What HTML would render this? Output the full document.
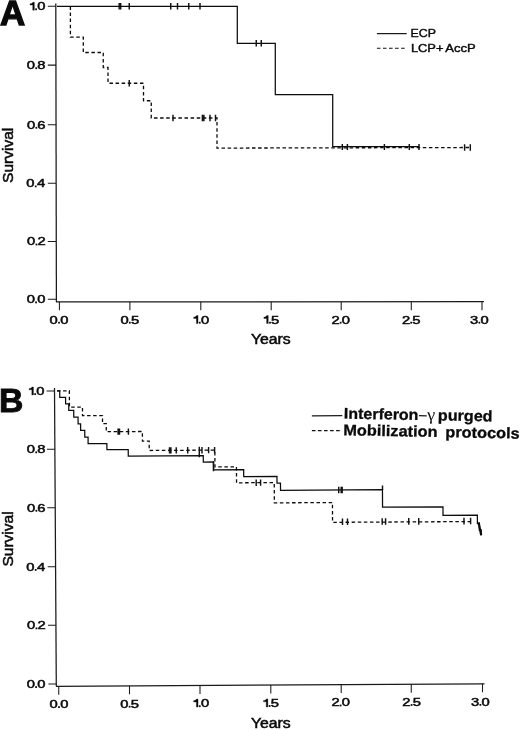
<!DOCTYPE html>
<html>
<head>
<meta charset="utf-8">
<title>Survival curves</title>
<style>
html,body{margin:0;padding:0;background:#fff;}
body{width:520px;height:730px;overflow:hidden;font-family:"Liberation Sans",sans-serif;}
svg{display:block;}
text{font-family:"Liberation Sans",sans-serif;fill:#0a0a0a;}
.tk{font-size:11.3px;stroke:#0a0a0a;stroke-width:0.5;}
.lg{font-size:11px;stroke:#0a0a0a;stroke-width:0.4;}
.ax{font-size:13.8px;stroke:#0a0a0a;stroke-width:0.5;}
.ln{fill:none;stroke:#1a1a1a;stroke-width:1.25;}
.ds{fill:none;stroke:#111;stroke-width:1.1;stroke-dasharray:3.6 2.45;}
.cv{fill:none;stroke:#0c0c0c;stroke-width:1.25;stroke-linejoin:miter;}
.cd{fill:none;stroke:#0c0c0c;stroke-width:1.3;stroke-dasharray:3.5 2.6;}
.ct{fill:none;stroke:#111;stroke-width:1.45;}
.tkl{fill:none;stroke:#1a1a1a;stroke-width:1.05;}
</style>
</head>
<body>
<svg width="520" height="730" viewBox="0 0 520 730">
<defs>
  <filter id="soft" x="0" y="0" width="520" height="730" filterUnits="userSpaceOnUse" color-interpolation-filters="sRGB">
    <feGaussianBlur stdDeviation="0.38"/>
  </filter>
</defs>
<rect x="0" y="0" width="520" height="730" fill="#ffffff"/>
<g filter="url(#soft)">

<g id="panelA">
<text x="0.1" y="25.3" font-size="35.5" font-weight="bold" textLength="25.2" lengthAdjust="spacingAndGlyphs" style="stroke:#0a0a0a;stroke-width:1.3">A</text>
<path class="ln" d="M55.8,3.5 L56.4,302"/>
<path class="ln" d="M56,301.8 L483.9,301.7"/>
<path class="tkl" d="M47.8,6.2 H56 M47.8,65.1 H56 M47.8,124.7 H56 M47.8,183.3 H56 M47.8,241.4 H56 M47.8,299.3 H56"/>
<path class="tkl" d="M59.4,301.8 V310.3 M129.9,301.8 V310.3 M200.8,301.8 V310.3 M271.2,301.8 V310.3 M341.2,301.8 V310.3 M411.3,301.8 V310.3 M482.0,301.8 V310.3"/>
<path d="M29.97,3.75 C31.57,3.70 32.57,3.10 32.92,2.20 L34.37,2.20 L34.37,10.20 L32.72,10.20 L32.72,5.05 L29.97,5.05 Z" style="fill:#0a0a0a;stroke:#0a0a0a;stroke-width:0.3"/>
<rect x="35.22" y="8.40" width="1.75" height="1.8" style="fill:#0a0a0a"/>
<text class="tk" transform="translate(37.25,10.20) scale(1.310,1)" style="font-size:11.3px">0</text>
<text class="tk" transform="translate(26.84,69.10) scale(1.310,1)" style="font-size:11.3px">0</text>
<rect x="35.34" y="67.30" width="1.75" height="1.8" style="fill:#0a0a0a"/>
<text class="tk" transform="translate(37.31,69.10) scale(1.310,1)" style="font-size:11.3px">8</text>
<text class="tk" transform="translate(26.97,128.70) scale(1.310,1)" style="font-size:11.3px">0</text>
<rect x="35.48" y="126.90" width="1.75" height="1.8" style="fill:#0a0a0a"/>
<text class="tk" transform="translate(37.32,128.70) scale(1.310,1)" style="font-size:11.3px">6</text>
<text class="tk" transform="translate(26.34,187.30) scale(1.310,1)" style="font-size:11.3px">0</text>
<rect x="34.84" y="185.50" width="1.75" height="1.8" style="fill:#0a0a0a"/>
<text class="tk" transform="translate(37.10,187.30) scale(1.310,1)" style="font-size:11.3px">4</text>
<text class="tk" transform="translate(27.05,245.40) scale(1.310,1)" style="font-size:11.3px">0</text>
<rect x="35.55" y="243.60" width="1.75" height="1.8" style="fill:#0a0a0a"/>
<text class="tk" transform="translate(37.41,245.40) scale(1.310,1)" style="font-size:11.3px">2</text>
<text class="tk" transform="translate(26.72,303.30) scale(1.310,1)" style="font-size:11.3px">0</text>
<rect x="35.22" y="301.50" width="1.75" height="1.8" style="fill:#0a0a0a"/>
<text class="tk" transform="translate(37.25,303.30) scale(1.310,1)" style="font-size:11.3px">0</text>
<text class="tk" transform="translate(49.62,323.60) scale(1.310,1)" style="font-size:11.3px">0</text>
<rect x="58.12" y="321.80" width="1.75" height="1.8" style="fill:#0a0a0a"/>
<text class="tk" transform="translate(60.15,323.60) scale(1.310,1)" style="font-size:11.3px">0</text>
<text class="tk" transform="translate(120.40,323.60) scale(1.310,1)" style="font-size:11.3px">0</text>
<rect x="128.90" y="321.80" width="1.75" height="1.8" style="fill:#0a0a0a"/>
<text class="tk" transform="translate(130.91,323.60) scale(1.310,1)" style="font-size:11.3px">5</text>
<path d="M193.64,317.15 C195.24,317.10 196.24,316.50 196.59,315.60 L198.04,315.60 L198.04,323.60 L196.39,323.60 L196.39,318.45 L193.64,318.45 Z" style="fill:#0a0a0a;stroke:#0a0a0a;stroke-width:0.3"/>
<rect x="198.89" y="321.80" width="1.75" height="1.8" style="fill:#0a0a0a"/>
<text class="tk" transform="translate(200.91,323.60) scale(1.310,1)" style="font-size:11.3px">0</text>
<path d="M263.87,317.15 C265.47,317.10 266.47,316.50 266.82,315.60 L268.27,315.60 L268.27,323.60 L266.62,323.60 L266.62,318.45 L263.87,318.45 Z" style="fill:#0a0a0a;stroke:#0a0a0a;stroke-width:0.3"/>
<rect x="269.12" y="321.80" width="1.75" height="1.8" style="fill:#0a0a0a"/>
<text class="tk" transform="translate(271.12,323.60) scale(1.310,1)" style="font-size:11.3px">5</text>
<text class="tk" transform="translate(331.42,323.60) scale(1.310,1)" style="font-size:11.3px">2</text>
<rect x="339.76" y="321.80" width="1.75" height="1.8" style="fill:#0a0a0a"/>
<text class="tk" transform="translate(341.78,323.60) scale(1.310,1)" style="font-size:11.3px">0</text>
<text class="tk" transform="translate(401.95,323.60) scale(1.310,1)" style="font-size:11.3px">2</text>
<rect x="410.29" y="321.80" width="1.75" height="1.8" style="fill:#0a0a0a"/>
<text class="tk" transform="translate(412.30,323.60) scale(1.310,1)" style="font-size:11.3px">5</text>
<text class="tk" transform="translate(470.07,323.60) scale(1.310,1)" style="font-size:11.3px">3</text>
<rect x="478.50" y="321.80" width="1.75" height="1.8" style="fill:#0a0a0a"/>
<text class="tk" transform="translate(480.52,323.60) scale(1.310,1)" style="font-size:11.3px">0</text>
<text class="ax" x="250.9" y="344.1" textLength="39.8" lengthAdjust="spacingAndGlyphs">Years</text>
<text class="ax" transform="translate(13.3,182.9) rotate(-90)" textLength="55.2" lengthAdjust="spacingAndGlyphs">Survival</text>
<path class="ln" d="M376.9,33.6 H406.7"/>
<path class="ds" d="M376.9,48.3 H405" />
<text class="lg" x="410.6" y="37.4" textLength="25.4" lengthAdjust="spacingAndGlyphs">ECP</text>
<text class="lg" x="410.9" y="52" textLength="32.6" lengthAdjust="spacingAndGlyphs">LCP+</text>
<text class="lg" x="445.3" y="52" textLength="30.4" lengthAdjust="spacingAndGlyphs">AccP</text>
<path class="cv" d="M57,6.4 H237.3 V43.3 H275.3 V94.5 H332.7 V146.5 H419.2"/>
<path class="ct" d="M119.20,3.00 V9.40 M120.70,3.00 V9.40 M129.25,3.00 V9.40 M170.75,3.00 V9.40 M177.50,3.00 V9.40 M188.75,3.00 V9.40 M200.00,3.00 V9.40 M256.25,40.05 V46.45 M261.25,40.05 V46.45 M342.30,144.00 V150.00 M347.40,144.00 V150.00 M384.40,144.00 V150.00 M409.30,144.00 V150.00 M419.00,144.00 V150.00"/>
<path class="cd" d="M70.4,6.4 V37.1 H83.3 V52.5 H103.25 V67.5 H108 V83.25 H143.5 V100.75 H151.25 V118 H217 V148.1 L470.8,147.5"/>
<path class="ct" d="M129.25,80.05 V86.45 M173.00,114.80 V121.20 M202.40,114.80 V121.20 M203.90,114.80 V121.20 M210.00,114.80 V121.20 M215.50,114.80 V121.20 M464.60,144.30 V150.70 M470.30,144.30 V150.70"/>
</g>
<g id="panelB">
<text x="-0.9" y="412" font-size="33.5" font-weight="bold" textLength="24.4" lengthAdjust="spacingAndGlyphs" style="stroke:#0a0a0a;stroke-width:0.9">B</text>
<path class="ln" d="M54.5,388 L56.3,686.3"/>
<path class="ln" d="M56,686.25 L484.5,683.75"/>
<path class="tkl" d="M46.6,391.00 H54.5 M46.9,449.25 H54.9 M47.3,507.70 H55.2 M47.7,566.80 H55.6 M48.0,625.30 H55.9 M48.4,684.00 H56.3"/>
<path class="tkl" d="M58.75,686.23 V694.73 M129.50,685.82 V694.32 M200.00,685.41 V693.91 M270.80,685.00 V693.50 M341.20,684.59 V693.09 M411.25,684.18 V692.68 M482.50,683.76 V692.26"/>
<path d="M29.07,388.55 C30.67,388.50 31.67,387.90 32.02,387.00 L33.47,387.00 L33.47,395.00 L31.82,395.00 L31.82,389.85 L29.07,389.85 Z" style="fill:#0a0a0a;stroke:#0a0a0a;stroke-width:0.3"/>
<rect x="34.32" y="393.20" width="1.75" height="1.8" style="fill:#0a0a0a"/>
<text class="tk" transform="translate(36.35,395.00) scale(1.310,1)" style="font-size:11.3px">0</text>
<text class="tk" transform="translate(26.84,453.25) scale(1.310,1)" style="font-size:11.3px">0</text>
<rect x="35.34" y="451.45" width="1.75" height="1.8" style="fill:#0a0a0a"/>
<text class="tk" transform="translate(37.31,453.25) scale(1.310,1)" style="font-size:11.3px">8</text>
<text class="tk" transform="translate(26.97,511.70) scale(1.310,1)" style="font-size:11.3px">0</text>
<rect x="35.48" y="509.90" width="1.75" height="1.8" style="fill:#0a0a0a"/>
<text class="tk" transform="translate(37.32,511.70) scale(1.310,1)" style="font-size:11.3px">6</text>
<text class="tk" transform="translate(26.34,570.80) scale(1.310,1)" style="font-size:11.3px">0</text>
<rect x="34.84" y="569.00" width="1.75" height="1.8" style="fill:#0a0a0a"/>
<text class="tk" transform="translate(37.10,570.80) scale(1.310,1)" style="font-size:11.3px">4</text>
<text class="tk" transform="translate(27.05,629.30) scale(1.310,1)" style="font-size:11.3px">0</text>
<rect x="35.55" y="627.50" width="1.75" height="1.8" style="fill:#0a0a0a"/>
<text class="tk" transform="translate(37.41,629.30) scale(1.310,1)" style="font-size:11.3px">2</text>
<text class="tk" transform="translate(26.72,688.00) scale(1.310,1)" style="font-size:11.3px">0</text>
<rect x="35.22" y="686.20" width="1.75" height="1.8" style="fill:#0a0a0a"/>
<text class="tk" transform="translate(37.25,688.00) scale(1.310,1)" style="font-size:11.3px">0</text>
<text class="tk" transform="translate(49.62,708.00) scale(1.310,1)" style="font-size:11.3px">0</text>
<rect x="58.12" y="706.20" width="1.75" height="1.8" style="fill:#0a0a0a"/>
<text class="tk" transform="translate(60.15,708.00) scale(1.310,1)" style="font-size:11.3px">0</text>
<text class="tk" transform="translate(120.25,707.60) scale(1.310,1)" style="font-size:11.3px">0</text>
<rect x="128.75" y="705.80" width="1.75" height="1.8" style="fill:#0a0a0a"/>
<text class="tk" transform="translate(130.76,707.60) scale(1.310,1)" style="font-size:11.3px">5</text>
<path d="M193.64,700.65 C195.24,700.60 196.24,700.00 196.59,699.10 L198.04,699.10 L198.04,707.10 L196.39,707.10 L196.39,701.95 L193.64,701.95 Z" style="fill:#0a0a0a;stroke:#0a0a0a;stroke-width:0.3"/>
<rect x="198.89" y="705.30" width="1.75" height="1.8" style="fill:#0a0a0a"/>
<text class="tk" transform="translate(200.91,707.10) scale(1.310,1)" style="font-size:11.3px">0</text>
<path d="M263.47,700.45 C265.07,700.40 266.07,699.80 266.42,698.90 L267.87,698.90 L267.87,706.90 L266.22,706.90 L266.22,701.75 L263.47,701.75 Z" style="fill:#0a0a0a;stroke:#0a0a0a;stroke-width:0.3"/>
<rect x="268.72" y="705.10" width="1.75" height="1.8" style="fill:#0a0a0a"/>
<text class="tk" transform="translate(270.72,706.90) scale(1.310,1)" style="font-size:11.3px">5</text>
<text class="tk" transform="translate(331.42,706.40) scale(1.310,1)" style="font-size:11.3px">2</text>
<rect x="339.76" y="704.60" width="1.75" height="1.8" style="fill:#0a0a0a"/>
<text class="tk" transform="translate(341.78,706.40) scale(1.310,1)" style="font-size:11.3px">0</text>
<text class="tk" transform="translate(402.35,705.90) scale(1.310,1)" style="font-size:11.3px">2</text>
<rect x="410.69" y="704.10" width="1.75" height="1.8" style="fill:#0a0a0a"/>
<text class="tk" transform="translate(412.70,705.90) scale(1.310,1)" style="font-size:11.3px">5</text>
<text class="tk" transform="translate(471.07,705.75) scale(1.310,1)" style="font-size:11.3px">3</text>
<rect x="479.50" y="703.95" width="1.75" height="1.8" style="fill:#0a0a0a"/>
<text class="tk" transform="translate(481.52,705.75) scale(1.310,1)" style="font-size:11.3px">0</text>
<text class="ax" x="250.9" y="727.7" textLength="39.8" lengthAdjust="spacingAndGlyphs">Years</text>
<text class="ax" transform="translate(13.2,566.6) rotate(-90)" textLength="55.2" lengthAdjust="spacingAndGlyphs">Survival</text>
<path class="ln" d="M311.9,415.9 L342.3,415.6" style="stroke-width:1.4"/>
<path class="ds" d="M311.9,430.6 H339.8" style="stroke-width:1.3"/>
<g transform="rotate(1.1 344.5 418.6)">
  <g font-size="15.3" font-weight="bold" style="stroke:#0a0a0a;stroke-width:0.3">
    <text x="343.8" y="418.6" textLength="74.6" lengthAdjust="spacingAndGlyphs">Interferon</text>
    <text x="437.9" y="418.6" textLength="54.6" lengthAdjust="spacingAndGlyphs">purged</text>
  </g>
  <path class="ln" d="M418.9,414.2 H426.7" style="stroke-width:1.3"/>
  <text x="427.1" y="418.4" font-size="17" textLength="8.1" lengthAdjust="spacingAndGlyphs" style='font-family:"Liberation Serif",serif'>γ</text>
</g>
<g transform="rotate(1.1 344.2 435.2)">
  <g font-size="15.3" font-weight="bold" style="stroke:#0a0a0a;stroke-width:0.3">
    <text x="343.2" y="435.2" textLength="94.4" lengthAdjust="spacingAndGlyphs">Mobilization</text>
    <text x="445.3" y="435.2" textLength="74.4" lengthAdjust="spacingAndGlyphs">protocols</text>
  </g>
</g>
<g transform="translate(0,0.2)">
<path class="cv" d="M57.00,390.61 L59.73,390.59 L59.77,397.27 L65.58,397.23 L65.62,403.76 L68.73,403.74 L68.77,410.26 L73.73,410.24 L73.77,416.91 L78.08,416.89 L78.12,423.76 L80.58,423.74 L80.62,430.26 L84.73,430.24 L84.77,436.91 L88.08,436.89 L88.12,443.45 L106.88,443.35 L106.92,449.46 L128.23,449.34 L128.27,455.82 L203.28,455.38 L203.32,461.83 L213.48,461.77 L213.52,469.69 L243.68,469.51 L243.72,476.30 L276.98,476.10 L277.02,483.01 L280.48,482.99 L280.52,490.10 L382.45,489.50 L382.55,506.93 L442.98,506.57 L443.02,515.10 L477.38,514.90 L477.42,523.51 L479.28,523.49 L479.32,529.81 L481.23,529.79 L481.27,535.00"/>
<path class="cv" d="M478.6,522 L479.6,527 L481.2,535" style="stroke-width:2.2"/>
<path class="ct" d="M338.75,486.5 V493 M341.2,486.5 V493 M342.2,486.5 V493 M382.5,485.3 V490 M213.5,461 V471"/>
<path class="cd" d="M57.00,390.64 L69.35,390.56 L69.45,406.94 L82.48,406.86 L82.52,415.46 L102.48,415.34 L102.52,423.41 L106.23,423.39 L106.27,431.50 L142.37,431.30 L142.43,440.87 L149.17,440.83 L149.23,450.29 L214.85,449.91 L214.95,466.76 L236.45,466.64 L236.55,482.61 L274.24,482.39 L274.36,502.67 L332.44,502.33 L332.56,522.15 L471.00,521.35"/>
<path class="ct" d="M118.08,428.24 L118.12,434.64 M119.48,428.23 L119.52,434.63 M128.38,428.18 L128.42,434.58 M169.48,446.97 L169.52,453.37 M170.88,446.96 L170.92,453.36 M176.23,446.93 L176.27,453.33 M187.68,446.87 L187.72,453.27 M201.98,446.78 L202.02,453.18 M208.58,446.75 L208.62,453.15 M214.58,446.71 L214.62,453.11 M199.3,446.5 V457 M256.18,479.30 L256.22,485.70 M260.58,479.27 L260.62,485.67 M342.48,518.29 L342.52,524.89 M347.48,518.26 L347.52,524.86 M382.18,518.06 L382.22,524.66 M385.58,518.04 L385.62,524.64 M408.73,517.91 L408.77,524.51 M418.73,517.85 L418.77,524.45 M463.98,517.59 L464.02,524.19 M470.58,517.55 L470.62,524.15"/>
</g>
</g>
</g>
</svg>
</body>
</html>
